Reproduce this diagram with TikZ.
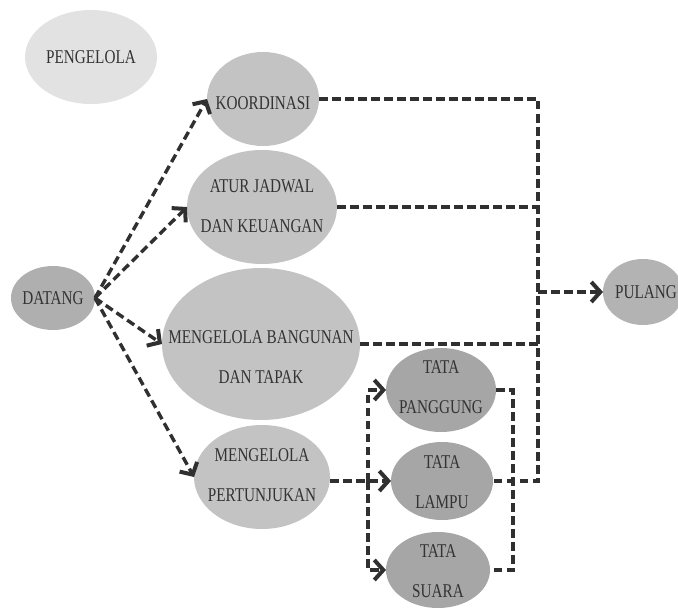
\documentclass[tikz,border=0pt]{standalone}
\usepackage{fontspec}
\setmainfont{Liberation Serif}[FakeStretch=0.78]
\usetikzlibrary{shapes.geometric,arrows.meta}
\definecolor{lightg}{HTML}{E2E2E2}
\definecolor{midg}{HTML}{C3C3C3}
\definecolor{dateg}{HTML}{AFAFAF}
\definecolor{pulg}{HTML}{B3B3B3}
\definecolor{tatag}{HTML}{A6A6A6}
\definecolor{ink}{HTML}{303030}
\definecolor{txtc}{HTML}{333333}
\tikzset{
  ell/.style={ellipse, draw=none, inner sep=0pt, outer sep=0pt},
  lbl/.style={font=\fontsize{19.5}{40}\selectfont, text=txtc, align=center, inner sep=0pt},
  dl/.style={draw=ink, line width=3.4pt, dash pattern=on 8.5pt off 4.5pt},
  arr/.style={dl, -{Straight Barb[length=9pt,width=20pt,line width=4pt]}}
}
\begin{document}
\begin{tikzpicture}[x=1pt,y=-1pt]
\useasboundingbox (0,0) rectangle (678,610);
\clip (0,0) rectangle (678,610);
% ellipses
\node[ell, fill=lightg, minimum width=132pt, minimum height=94pt] (peng) at (91,57) {};
\node[ell, fill=midg, minimum width=112pt, minimum height=94pt] (koord) at (263,99) {};
\node[ell, fill=midg, minimum width=150pt, minimum height=114pt] (atur) at (262,207) {};
\node[ell, fill=dateg, minimum width=84pt, minimum height=64pt] (datang) at (53,298) {};
\node[ell, fill=midg, minimum width=198pt, minimum height=152pt] (bang) at (261,344) {};
\node[ell, fill=midg, minimum width=136pt, minimum height=104pt] (pert) at (262,477) {};
\node[ell, fill=tatag, minimum width=110pt, minimum height=84pt] (pang) at (441,390) {};
\node[ell, fill=tatag, minimum width=102pt, minimum height=78pt] (lampu) at (442,481) {};
\node[ell, fill=tatag, minimum width=104pt, minimum height=76pt] (suara) at (438,570) {};
\node[ell, fill=pulg, minimum width=80pt, minimum height=66pt] (pulang) at (643,292) {};
% labels
\node[lbl] (tpeng) at (91,57) {PENGELOLA};
\node[lbl] (tkoord) at (263,103) {KOORDINASI};
\node[lbl] (tatur) at (262,206) {ATUR JADWAL\\DAN KEUANGAN};
\node[lbl] (tdatang) at (53,298) {DATANG};
\node[lbl] (tbang) at (261,357) {MENGELOLA BANGUNAN\\DAN TAPAK};
\node[lbl] (tpert) at (262,475) {MENGELOLA\\PERTUNJUKAN};
\node[lbl] (tpang) at (441,387) {TATA\\PANGGUNG};
\node[lbl] (tlampu) at (442,482) {TATA\\LAMPU};
\node[lbl] (tsuara) at (438,571) {TATA\\SUARA};
\node[lbl] (tpulang) at (646,292) {PULANG};
% helper coordinates
\coordinate (jx) at (538,0);
\coordinate (tx) at (513,0);
\coordinate (bx) at (368,0);
% from DATANG
\draw[arr] (datang.east) -- (koord.west);
\draw[arr] (datang.east) -- (atur.west);
\draw[arr] (datang.east) -- (bang.west);
\draw[arr] (datang.east) -- (pert.west);
% collector to PULANG
\draw[dl] (koord.east) -| (jx |- lampu.east) -- (lampu.east);
\draw[dl] (atur.east) -- (atur.east -| jx);
\draw[dl] (bang.east) -- (bang.east -| jx);
\draw[arr] (jx |- pulang.west) -- (pulang.west);
% TATA group
\draw[dl] (pang.east) -| (tx |- suara.east) -- (suara.east);
\draw[arr] (pert.east |- lampu.west) -- (lampu.west);
\draw[arr] (bx |- lampu.west) |- (pang.west);
\draw[arr] (bx |- lampu.west) |- (suara.west);
\end{tikzpicture}
\end{document}
